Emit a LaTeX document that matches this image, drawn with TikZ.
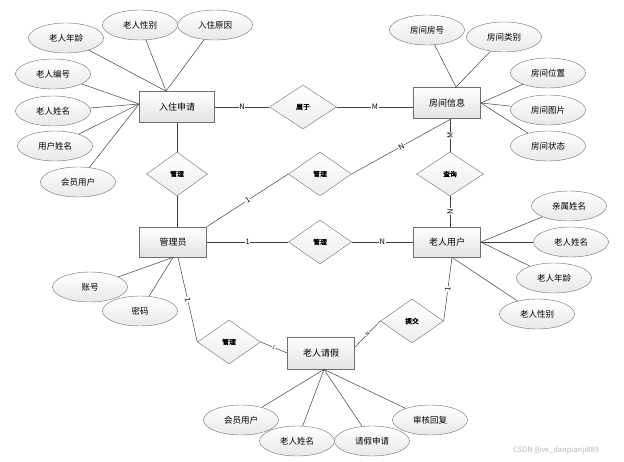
\documentclass[tikz,border=0pt]{standalone}
\usepackage{fontspec}
\setmainfont[AutoFakeBold=2]{Noto Sans CJK SC}
\usepackage{tikz}
\usetikzlibrary{shapes.geometric,positioning,calc}
\definecolor{edgegray}{HTML}{404040}
\definecolor{boxgray}{HTML}{6E6E6E}
\definecolor{markgray}{HTML}{B4B4B4}
\tikzset{
	entity/.style={% Entities as shaded boxes
		draw=boxgray, rectangle,
		line width=.8pt,
		top color=white, bottom color=gray!22,
		minimum width=67pt,
		minimum height=31pt,
		font=\fontsize{9}{10}\selectfont
	},
	attr/.style={
		draw=boxgray, ellipse,
		top color=white, bottom color=gray!18,
		minimum width=75pt,
		minimum height=30pt,
		inner sep=0pt,
		font=\fontsize{8.5}{10}\selectfont
	},
	rel/.style={
		draw=boxgray, diamond,
		top color=white, bottom color=gray!14,
		minimum width=63pt,
		minimum height=44pt,
		inner sep=0pt,
		font=\fontsize{6.8}{8}\selectfont\bfseries
	},
	link/.style={draw=edgegray, line width=.5pt},
	card/.style={fill=white, inner sep=.6pt, font=\fontsize{7.5}{8}\selectfont}
}

\begin{document}
\begin{tikzpicture}[x=1pt,y=-1pt]
		\useasboundingbox (0,0) rectangle (624,461);
		
		% Entities
		\node[entity, minimum width=75pt] (apply) at (177,107) {入住申请};
		\node[entity] (room) at (447,103) {房间信息};
		\node[entity, minimum height=30pt] (admin) at (173,242) {管理员};
		\node[entity, minimum height=30pt] (elder) at (447,242) {老人用户};
		\node[entity, minimum height=32pt] (leave) at (321,353) {老人请假};
		
		% Relations
		\node[rel, minimum width=67pt] (belong) at (303,107) {属于};
		\node[rel, minimum width=61pt] (mng1) at (177,174) {管理};
		\node[rel] (mng2) at (320,174) {管理};
		\node[rel, minimum width=67pt] (query) at (450,174) {查询};
		\node[rel] (mng3) at (320,242) {管理};
		\node[rel] (mng4) at (229,342) {管理};
		\node[rel] (submit) at (412,321) {提交};
		
		\draw[link] (apply) -- node[card] {N} (belong);
		\draw[link] (belong.east) -- node[card] {M} (belong.east -| room.west);
		\draw[link] (mng1.north |- apply.south) -- (mng1.north);
		\draw[link] (mng1.south) -- (mng1.south |- admin.north);
		\draw[link] (admin.north east) -- node[card, sloped] {1} (mng2.west);
		\draw[link] (mng2.east) -- node[card, sloped] {N} ([xshift=4pt]room.south);
		\draw[link] (query.north |- room.south) -- node[card, rotate=90] {M} (query.north);
		\draw[link] (query.south) -- node[card, rotate=90] {N} (query.south |- elder.north);
		\draw[link] (admin) -- node[card] {1} (mng3);
		\draw[link] (mng3) -- node[card] {N} (elder);
		\draw[link] ([xshift=5pt]admin.south) -- node[card, sloped] {1} (mng4.west);
		\draw[link] (mng4.east) -- node[card, sloped, font=\fontsize{5}{6}\selectfont] {1} (leave.west);
		\draw[link] ([yshift=6pt]leave.east) -- node[card, sloped, font=\fontsize{5}{6}\selectfont] {N} (submit.west);
		\draw[link] (submit.east) -- node[card, sloped] {1} ([xshift=5pt]elder.south);
		
		% Attributes of 入住申请
		\node[attr] (ap1) at (66,38) {老人年龄};
		\node[attr] (ap2) at (140,25) {老人性别};
		\node[attr] (ap3) at (215,25) {入住原因};
		\node[attr] (ap4) at (53,74) {老人编号};
		\node[attr] (ap5) at (53,111) {老人姓名};
		\node[attr] (ap6) at (55,146) {用户姓名};
		\node[attr] (ap7) at (78,182) {会员用户};
		\foreach \a in {ap1,ap2,ap3}
			\draw[link] (\a) -- ([xshift=-11pt]apply.north);
		\foreach \a in {ap4,ap5,ap6,ap7}
			\draw[link] (\a) -- ([yshift=3pt]apply.west);
		
		% Attributes of 房间信息
		\node[attr] (rm1) at (427,30) {房间房号};
		\node[attr] (rm2) at (504,37) {房间类别};
		\node[attr] (rm3) at (548,73) {房间位置};
		\node[attr] (rm4) at (548,110) {房间图片};
		\node[attr] (rm5) at (548,146) {房间状态};
		\foreach \a in {rm1,rm2}
			\draw[link] (\a) -- ([xshift=9pt]room.north);
		\foreach \a in {rm3,rm4,rm5}
			\draw[link] (\a) -- (room.east);
		
		% Attributes of 管理员
		\node[attr] (ad1) at (90,287) {账号};
		\node[attr] (ad2) at (140,311) {密码};
		\foreach \a in {ad1,ad2}
			\draw[link] (\a) -- (admin.south);
		
		% Attributes of 老人用户
		\node[attr] (el1) at (569,206) {亲属姓名};
		\node[attr] (el2) at (571,242) {老人姓名};
		\node[attr] (el3) at (554,278) {老人年龄};
		\node[attr] (el4) at (537,314) {老人性别};
		\foreach \a in {el1,el2,el3}
			\draw[link] (\a) -- (elder.east);
		\draw[link] (el4) -- ([xshift=5pt]elder.south);
		
		% Attributes of 老人请假
		\node[attr] (lv1) at (241,420) {会员用户};
		\node[attr] (lv2) at (297,441) {老人姓名};
		\node[attr] (lv3) at (372,441) {请假申请};
		\node[attr] (lv4) at (430,420) {审核回复};
		\foreach \a in {lv1,lv2,lv3,lv4}
			\draw[link] (\a) -- ([xshift=3pt]leave.south);
		
		\node[text=markgray, font=\fontsize{7.5}{9}\selectfont] (mark) at (556,450) {CSDN @vx\_danpianji889};
	\end{tikzpicture}
\end{document}
